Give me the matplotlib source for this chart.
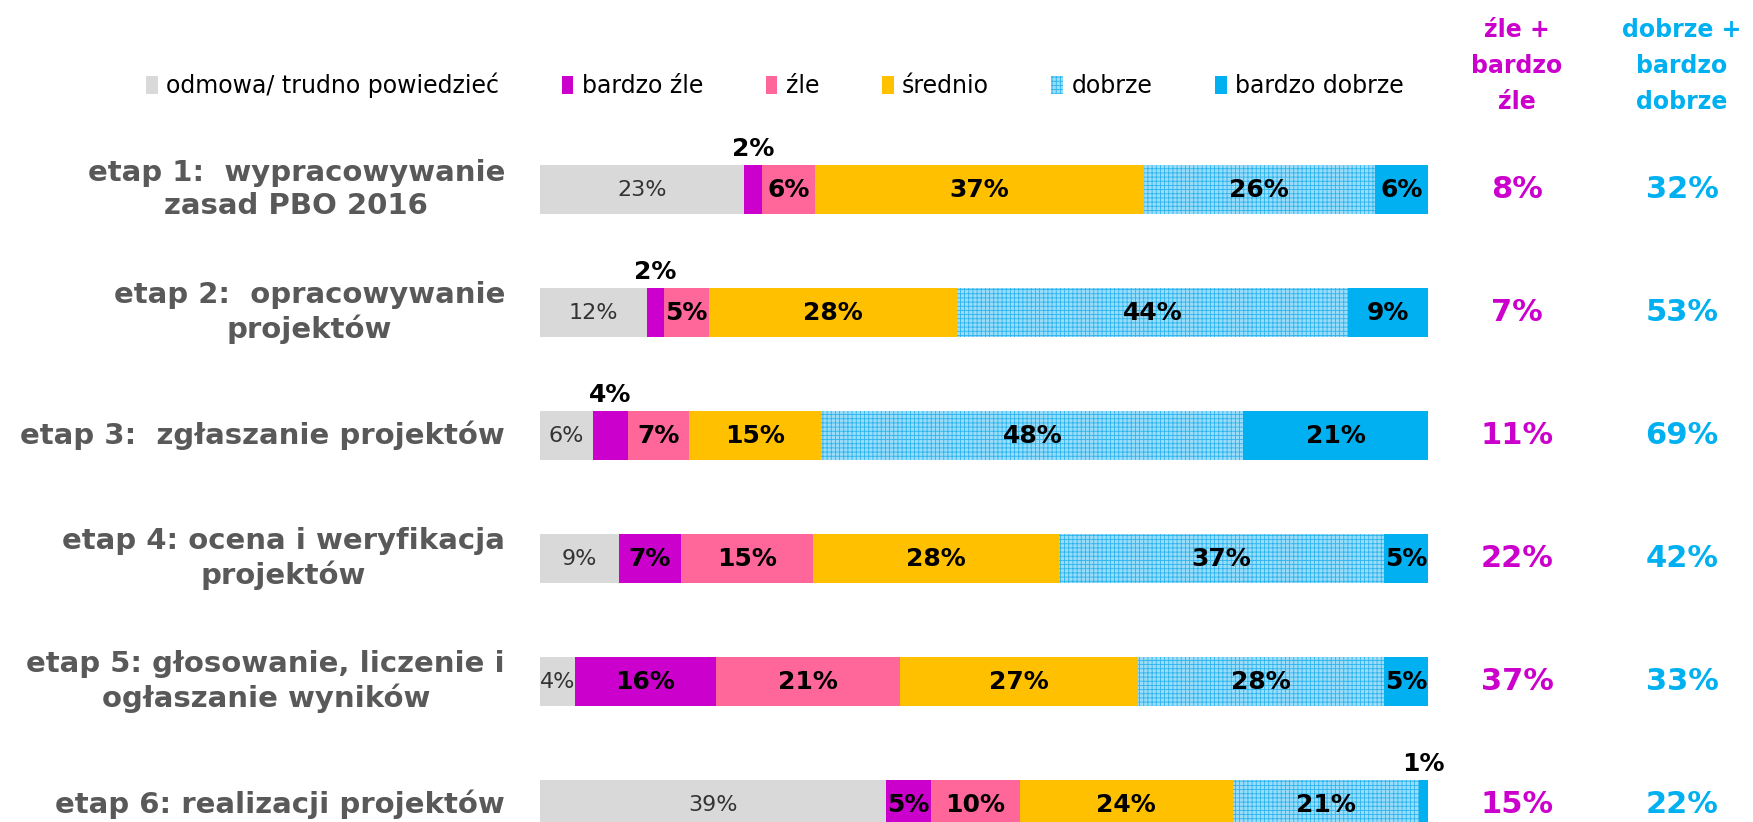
import numpy as np
import matplotlib.pyplot as plt
from matplotlib.transforms import blended_transform_factory

plt.rcParams['font.family'] = ['DejaVu Sans']
plt.rcParams['hatch.linewidth'] = 0.6

W, H = 1753, 822

stages = [
    "etap 1:  wypracowywanie\nzasad PBO 2016",
    "etap 2:  opracowywanie\nprojektów",
    "etap 3:  zgłaszanie projektów",
    "etap 4: ocena i weryfikacja\nprojektów",
    "etap 5: głosowanie, liczenie i\nogłaszanie wyników",
    "etap 6: realizacji projektów",
]
categories = ["odmowa/ trudno powiedzieć", "bardzo źle", "źle", "średnio", "dobrze", "bardzo dobrze"]

odmowa = [23, 12, 6, 9, 4, 39]
bardzo_zle = [2, 2, 4, 7, 16, 5]
zle = [6, 5, 7, 15, 21, 10]
srednio = [37, 28, 15, 28, 27, 24]
dobrze = [26, 44, 48, 37, 28, 21]
bardzo_dobrze = [6, 9, 21, 5, 5, 1]

zle_total = [8, 7, 11, 22, 37, 15]
dobrze_total = [32, 53, 69, 42, 33, 22]

COLORS = ["#D9D9D9", "#CC00CC", "#FF6699", "#FFC000", "#9BDDF9", "#00B0F0"]
MAGENTA = "#CC00CC"
CYAN = "#00B0F0"

vals = np.array([odmowa, bardzo_zle, zle, srednio, dobrze, bardzo_dobrze], dtype=float)
shares = vals / vals.sum(axis=0)
y = np.arange(len(stages))

fig = plt.figure(figsize=(W / 100, H / 100), dpi=100)
ax = fig.add_axes([540 / W, 0, 888 / W, 1])
ax.set_xlim(0, 1)
ax.set_ylim(5.142, -1.541)
ax.axis("off")

left = np.zeros(len(stages))
handles = []
for k, cat in enumerate(categories):
    if cat == "dobrze":
        bars = ax.barh(y, shares[k], left=left, height=0.4, color=COLORS[k],
                       hatch="++++", edgecolor="#2BB5EE", linewidth=0, label=cat)
    else:
        bars = ax.barh(y, shares[k], left=left, height=0.4, color=COLORS[k],
                       linewidth=0, label=cat)
    handles.append(bars)
    for i in range(len(stages)):
        v = int(vals[k, i])
        cx = left[i] + shares[k, i] / 2
        if k == 0:
            ax.text(cx, y[i], f"{v}%", ha="center", va="center", fontsize=16,
                    color="#333333")
        elif v <= 4:
            ax.text(cx, y[i] - 0.23, f"{v}%", ha="center", va="bottom", fontsize=18,
                    fontweight="bold", color="black")
        else:
            ax.text(cx, y[i], f"{v}%", ha="center", va="center", fontsize=18,
                    fontweight="bold", color="black")
    left += shares[k]

tr = blended_transform_factory(fig.transFigure, ax.transData)
for i, name in enumerate(stages):
    ax.text(505 / W, y[i], name, transform=tr, ha="right", va="center",
            multialignment="center", fontsize=21, fontweight="bold",
            color="#595959", linespacing=1.25)
    ax.text(1517 / W, y[i], f"{zle_total[i]}%", transform=tr, ha="center",
            va="center", fontsize=22, fontweight="bold", color=MAGENTA)
    ax.text(1682 / W, y[i], f"{dobrze_total[i]}%", transform=tr, ha="center",
            va="center", fontsize=22, fontweight="bold", color=CYAN)

fig.text(1517 / W, 1 - 66 / H, "źle +\nbardzo\nźle", ha="center", va="center",
         fontsize=17, fontweight="bold", color=MAGENTA, linespacing=1.65)
fig.text(1682 / W, 1 - 66 / H, "dobrze +\nbardzo\ndobrze", ha="center", va="center",
         fontsize=17, fontweight="bold", color=CYAN, linespacing=1.65)

fig.legend(handles, categories, ncol=6, loc="center left",
           bbox_to_anchor=(146 / W, 1 - 85 / H), frameon=False, fontsize=17,
           handlelength=0.5, handleheight=0.8, handletextpad=0.35,
           columnspacing=2.65, borderpad=0, borderaxespad=0)

fig.savefig("out.png", dpi=100)
